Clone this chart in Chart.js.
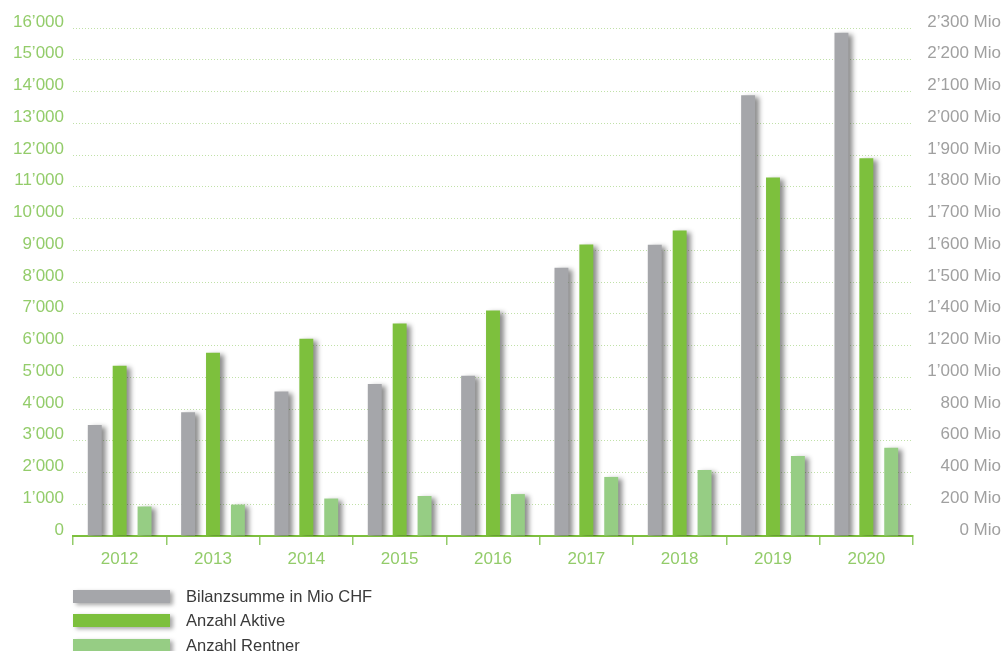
<!DOCTYPE html>
<html>
<head>
<meta charset="utf-8">
<script src="https://cdn.jsdelivr.net/npm/chart.js@4"></script>
<style>
    body { margin: 0; background: #fff; }
    #wrap { position: relative; width: 1005px; height: 651px; }
    #legend { position: absolute; left: 73px; top: 584px; font-family: "Liberation Sans", Arial, sans-serif; font-size: 16.5px; color: #3a3a3a; }
    #legend .item { height: 24.5px; display: flex; align-items: center; }
    #legend .box { width: 97px; height: 13px; margin-right: 16px; box-shadow: 3px 2px 4px rgba(0,0,0,0.35); }
</style>
</head>
<body>
<div id="wrap">
    <canvas id="myChart" width="1005" height="651"></canvas>
    <div id="legend"></div>
</div>
<script>
// years on the x axis
const years = ['2012', '2013', '2014', '2015', '2016', '2017', '2018', '2019', '2020'];
// bar heights read against the left grid
const bilanzsumme = [3500, 3900, 4550, 4790, 5050, 8450, 9170, 13880, 15850];
const aktive = [5360, 5770, 6210, 6690, 7100, 9180, 9620, 11290, 11900];
const rentner = [930, 990, 1180, 1260, 1320, 1860, 2080, 2520, 2780];
// tick labels
const leftLabels = ['0', '1’000', '2’000', '3’000', '4’000', '5’000', '6’000', '7’000', '8’000',
    '9’000', '10’000', '11’000', '12’000', '13’000', '14’000', '15’000', '16’000'];
const rightLabels = ['0 Mio', '200 Mio', '400 Mio', '600 Mio', '800 Mio', '1’000 Mio', '1’200 Mio', '1’400 Mio',
    '1’500 Mio', '1’600 Mio', '1’700 Mio', '1’800 Mio', '1’900 Mio', '2’000 Mio', '2’100 Mio', '2’200 Mio', '2’300 Mio'];

const green = '#7dc03d';
const labelGreen = '#93cc6a';
const font = { family: '"Liberation Sans", Arial, sans-serif', size: 17 };

// drop shadow behind the bars
const barShadow = {
    id: 'barShadow',
    beforeDatasetsDraw(chart) {
        const ctx = chart.ctx;
        ctx.save();
        ctx.shadowColor = 'rgba(0, 0, 0, 0.45)';
        ctx.shadowBlur = 5;
        ctx.shadowOffsetX = 4;
        ctx.shadowOffsetY = 2;
    },
    afterDatasetsDraw(chart) {
        chart.ctx.restore();
    }
};

const chart = new Chart(document.getElementById('myChart'), {
    type: 'bar',
    data: {
        labels: years,
        datasets: [
            { label: 'Bilanzsumme in Mio CHF', data: bilanzsumme, backgroundColor: '#a5a6aa' },
            { label: 'Anzahl Aktive', data: aktive, backgroundColor: green },
            { label: 'Anzahl Rentner', data: rentner, backgroundColor: '#96cd84' }
        ]
    },
    options: {
        responsive: false,
        animation: false,
        layout: { padding: { top: 28, bottom: 80, left: 0, right: 4 } },
        datasets: { bar: { barPercentage: 0.56, categoryPercentage: 0.8 } },
        plugins: {
            legend: { display: false },
            tooltip: { enabled: false }
        },
        scales: {
            x: {
                grid: { drawOnChartArea: false, drawTicks: true, tickLength: 9, color: labelGreen, lineWidth: 1.5 },
                border: { color: green, width: 2 },
                ticks: { color: labelGreen, font: font, padding: 4 },
                afterFit: (scale) => { scale.height = 35; }
            },
            y: {
                min: 0,
                max: 16000,
                ticks: {
                    stepSize: 1000,
                    color: labelGreen,
                    font: font,
                    padding: 9,
                    labelOffset: -6,
                    callback: (v, i) => leftLabels[i]
                },
                grid: { color: 'rgba(150, 205, 110, 0.6)', drawTicks: false, lineWidth: 1 },
                border: { display: false, dash: [1, 2] },
                afterFit: (scale) => { scale.width = 73; }
            },
            y1: {
                position: 'right',
                min: 0,
                max: 16000,
                ticks: {
                    stepSize: 1000,
                    color: '#a0a0a0',
                    font: font,
                    padding: 8,
                    labelOffset: -6,
                    crossAlign: 'far',
                    callback: (v, i) => rightLabels[i]
                },
                grid: { drawOnChartArea: false, drawTicks: false },
                border: { display: false },
                afterFit: (scale) => { scale.width = 88; }
            }
        }
    },
    plugins: [barShadow]
});

// legend stacked under the chart
const legend = document.getElementById('legend');
for (let ds of chart.data.datasets) {
    const item = document.createElement('div');
    item.className = 'item';
    item.innerHTML = '<span class="box" style="background:' + ds.backgroundColor + '"></span><span>' + ds.label + '</span>';
    legend.appendChild(item);
}
</script>
</body>
</html>
